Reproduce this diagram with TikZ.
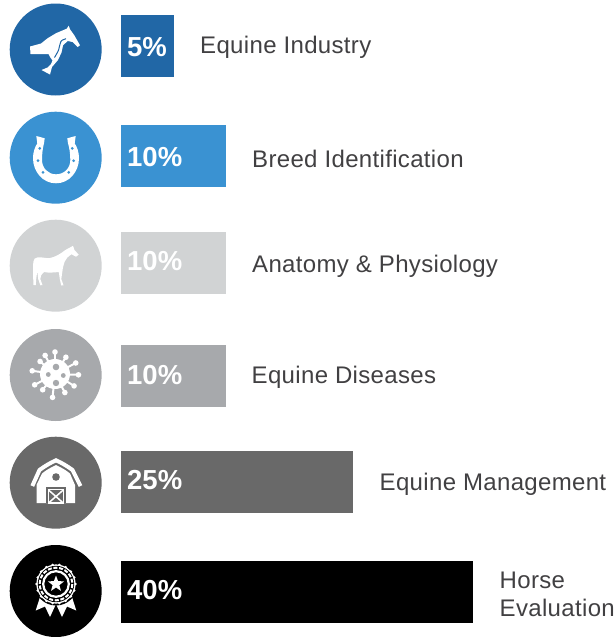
\documentclass[tikz,border=0pt]{standalone}
\usepackage{fontspec}
\setmainfont{Liberation Sans}
\newfontfamily\lblfont[LetterSpace=1.4]{Liberation Sans}
\definecolor{cA}{HTML}{2167A6}
\definecolor{cB}{HTML}{3A92D2}
\definecolor{cC}{HTML}{D1D3D4}
\definecolor{cD}{HTML}{A7A9AC}
\definecolor{cE}{HTML}{696969}
\definecolor{cF}{HTML}{000000}
\definecolor{lbl}{HTML}{414042}
\usetikzlibrary{shapes.geometric}
\tikzset{
  disc/.style={circle,minimum size=92pt,inner sep=0pt,draw=none},
  barbox/.style={rectangle,anchor=north west,minimum height=62pt,inner sep=0pt,draw=none},
  pct/.style={anchor=base west,inner sep=0pt,text=white,font=\fontsize{27.5}{27.5}\selectfont\bfseries},
  lab/.style={anchor=base west,inner sep=0pt,text=lbl,font=\fontsize{24}{24}\selectfont\lblfont},
  ico/.style={fill=white,draw=none}
}
\begin{document}
\begin{tikzpicture}[x=1pt,y=-1pt]
\useasboundingbox (0,0) rectangle (615,637);
% discs
\node[disc,fill=cA] (d1) at (55.7,49.5) {};
\node[disc,fill=cB] (d2) at (55.7,157.7) {};
\node[disc,fill=cC] (d3) at (55.7,265.7) {};
\node[disc,fill=cD] (d4) at (55.7,375) {};
\node[disc,fill=cE] (d5) at (55.7,482.7) {};
\node[disc,fill=cF] (d6) at (55.7,591) {};
% bars
\node[barbox,fill=cA,minimum width=53pt] (b1) at (121,15) {};
\node[barbox,fill=cB,minimum width=105pt] (b2) at (121,125) {};
\node[barbox,fill=cC,minimum width=105pt] (b3) at (121,232) {};
\node[barbox,fill=cD,minimum width=105pt] (b4) at (121,345) {};
\node[barbox,fill=cE,minimum width=232pt] (b5) at (121,451) {};
\node[barbox,fill=cF,minimum width=352pt] (b6) at (121,561) {};
% percentages
\node[pct] (p1) at (127,56) {5\%};
\node[pct] (p2) at (127,166.5) {10\%};
\node[pct] (p3) at (127,270.5) {10\%};
\node[pct] (p4) at (127,384.5) {10\%};
\node[pct] (p5) at (127,489.5) {25\%};
\node[pct] (p6) at (127,599.5) {40\%};
% labels
\node[lab] (l1) at (200,53) {Equine Industry};
\node[lab] (l2) at (252,167) {Breed Identification};
\node[lab] (l3) at (252,272) {Anatomy \& Physiology};
\node[lab] (l4) at (251.5,383) {Equine Diseases};
\node[lab] (l5) at (379.5,490) {Equine Management};
\node[lab] (l6a) at (499.5,588) {Horse};
\node[lab] (l6b) at (499.5,616) {Evaluation};
% icon 1: horse head
\fill[ico] (30,46.5) -- (30.5,54) -- (48.5,54) -- (50,57) -- (52.5,60.5) -- (51,64) -- (47.5,67.5) -- (41.5,70) -- (50,74.5) -- (52,67) -- (58,60) -- (61.5,52.5) .. controls (62.5,49.5) and (62.5,47) .. (63,45.3) -- (67.7,41) -- (72.7,42) -- (77.7,47) -- (80,45.3) -- (74.3,35.3) -- (70,29.3) -- (68.7,25.7) -- (66.7,28.7) -- (56,33.2) -- (47.7,38.2) -- (41,43.5) -- cycle;
\draw[cA,line width=1pt] (66,38.7) .. controls (63,39.5) and (61.5,40.5) .. (61,41.3) .. controls (60,44) and (59.5,46) .. (59.3,47) .. controls (59,49) and (58.5,50.5) .. (57.7,52) -- (54.5,57.5);
% icon 2: horseshoe
\fill[ico] (36.3,136) -- (44.7,138.3) -- (44,143.3) .. controls (42.7,148) and (42,154) .. (42,160) .. controls (42,168) and (48,174.3) .. (56,174.3) .. controls (64.5,174.3) and (70.3,168) .. (70.3,160) .. controls (70.3,154) and (69.5,148) .. (68,143.3) -- (67.3,138.3) -- (75.7,136) -- (74.7,143.3) .. controls (77,147) and (79,152) .. (79,158) .. controls (79,172) and (69,183.3) .. (56,183.3) .. controls (43,183.3) and (33,172) .. (33,158) .. controls (33,152) and (35,147) .. (37.3,143.3) -- cycle;
\foreach \p in {(39.7,148.3),(38,160.7),(43,172.3),(68.7,172.3),(73.7,160.7),(72.3,148.3)}
  \fill[cB] \p circle (1.5);
% icon 3: horse
\fill[ico] (33.5,285) .. controls (33,276) and (33,268) .. (33.3,262) .. controls (33.5,259) and (35,257.5) .. (38,257.3) .. controls (42,257) and (46,258.5) .. (50,258) .. controls (55,257) and (59,254.5) .. (62,252.5) .. controls (65,250) and (68,248.5) .. (70,247.5) -- (73,245.8) -- (74.5,250) -- (78.7,254.7) -- (76,256.7) -- (71.5,254.3) .. controls (68,256.5) and (65.5,259) .. (64.5,262) .. controls (63.5,265) and (62.8,268) .. (62.3,272) -- (61.3,279) -- (63.5,285.3) -- (61.2,285.5) -- (59.8,279) -- (58.8,272) .. controls (54,272.5) and (48,273) .. (44,272) .. controls (41.5,274) and (40.3,276) .. (40.3,279) -- (42.5,285) -- (40.3,285.3) -- (38.2,279) -- (37.3,271) -- (36.3,278) -- (35.8,285) -- cycle;
% icon 4: virus
\foreach \a/\r in {-90/22,-57/20,-28/23.5,2/23.5,32/22.5,62/21,96/23.5,128/20,152/23,-172/23,-140/19.5,-118/21}{
  \draw[white,line width=2pt] (55,374) -- ++(\a:\r);
  \fill[white] (55,374) ++(\a:\r) circle (2.8);
}
\fill[white] (55,374) circle (15);
\fill[cD] (56,367) circle (3.3);
\fill[cD] (48.3,374.5) circle (2.4);
\fill[cD] (63.3,375.5) circle (2.4);
\fill[cD] (56,383) circle (3.2);
% icon 5: barn
\draw[white,line width=4pt,line cap=butt,line join=miter] (32.3,486) -- (39.5,470) .. controls (45,466) and (50,463) .. (56,460.3) .. controls (62,463) and (67,466) .. (72.5,470) -- (80.5,486);
\fill[ico] (36.5,503) -- (36.5,485) -- (42,473.5) .. controls (46,470) and (51,467.5) .. (56,465) .. controls (61,467.5) and (66,470) .. (70,473.5) -- (75,485) -- (75,503) -- cycle;
\fill[cE] (56,477) circle (3.8);
\fill[cE] (46.3,487.3) rectangle (65.5,503);
\draw[white,line width=1.5pt] (48.5,489.5) rectangle (63.3,503);
\draw[white,line width=1.5pt] (48.5,490) -- (63.3,503) (63.3,490) -- (48.5,503);
% icon 6: rosette
\fill[ico] (41,594) -- (35.7,610.5) -- (45,606.5) -- (50,617) -- (56,604) -- (62,617) -- (67,606.5) -- (76.3,610.5) -- (71,594) -- cycle;
\fill[black] (56,584) circle (21.5);
\foreach \a in {0,20,...,340}
  \fill[white] (56,584) ++(\a:19.3) circle (1.5);
\fill[white] (56,584) circle (19.6);
\fill[black] (56,584) circle (18.2);
\draw[white,line width=2pt,dash pattern=on 4pt off 1.7pt] (56,584) circle (16.3);
\draw[white,line width=2.2pt] (56,584) circle (12.8);
\node[star,star points=5,star point ratio=2.4,fill=white,inner sep=0pt,minimum size=17pt,draw=none] (st) at (56,584) {};
\end{tikzpicture}
\end{document}
